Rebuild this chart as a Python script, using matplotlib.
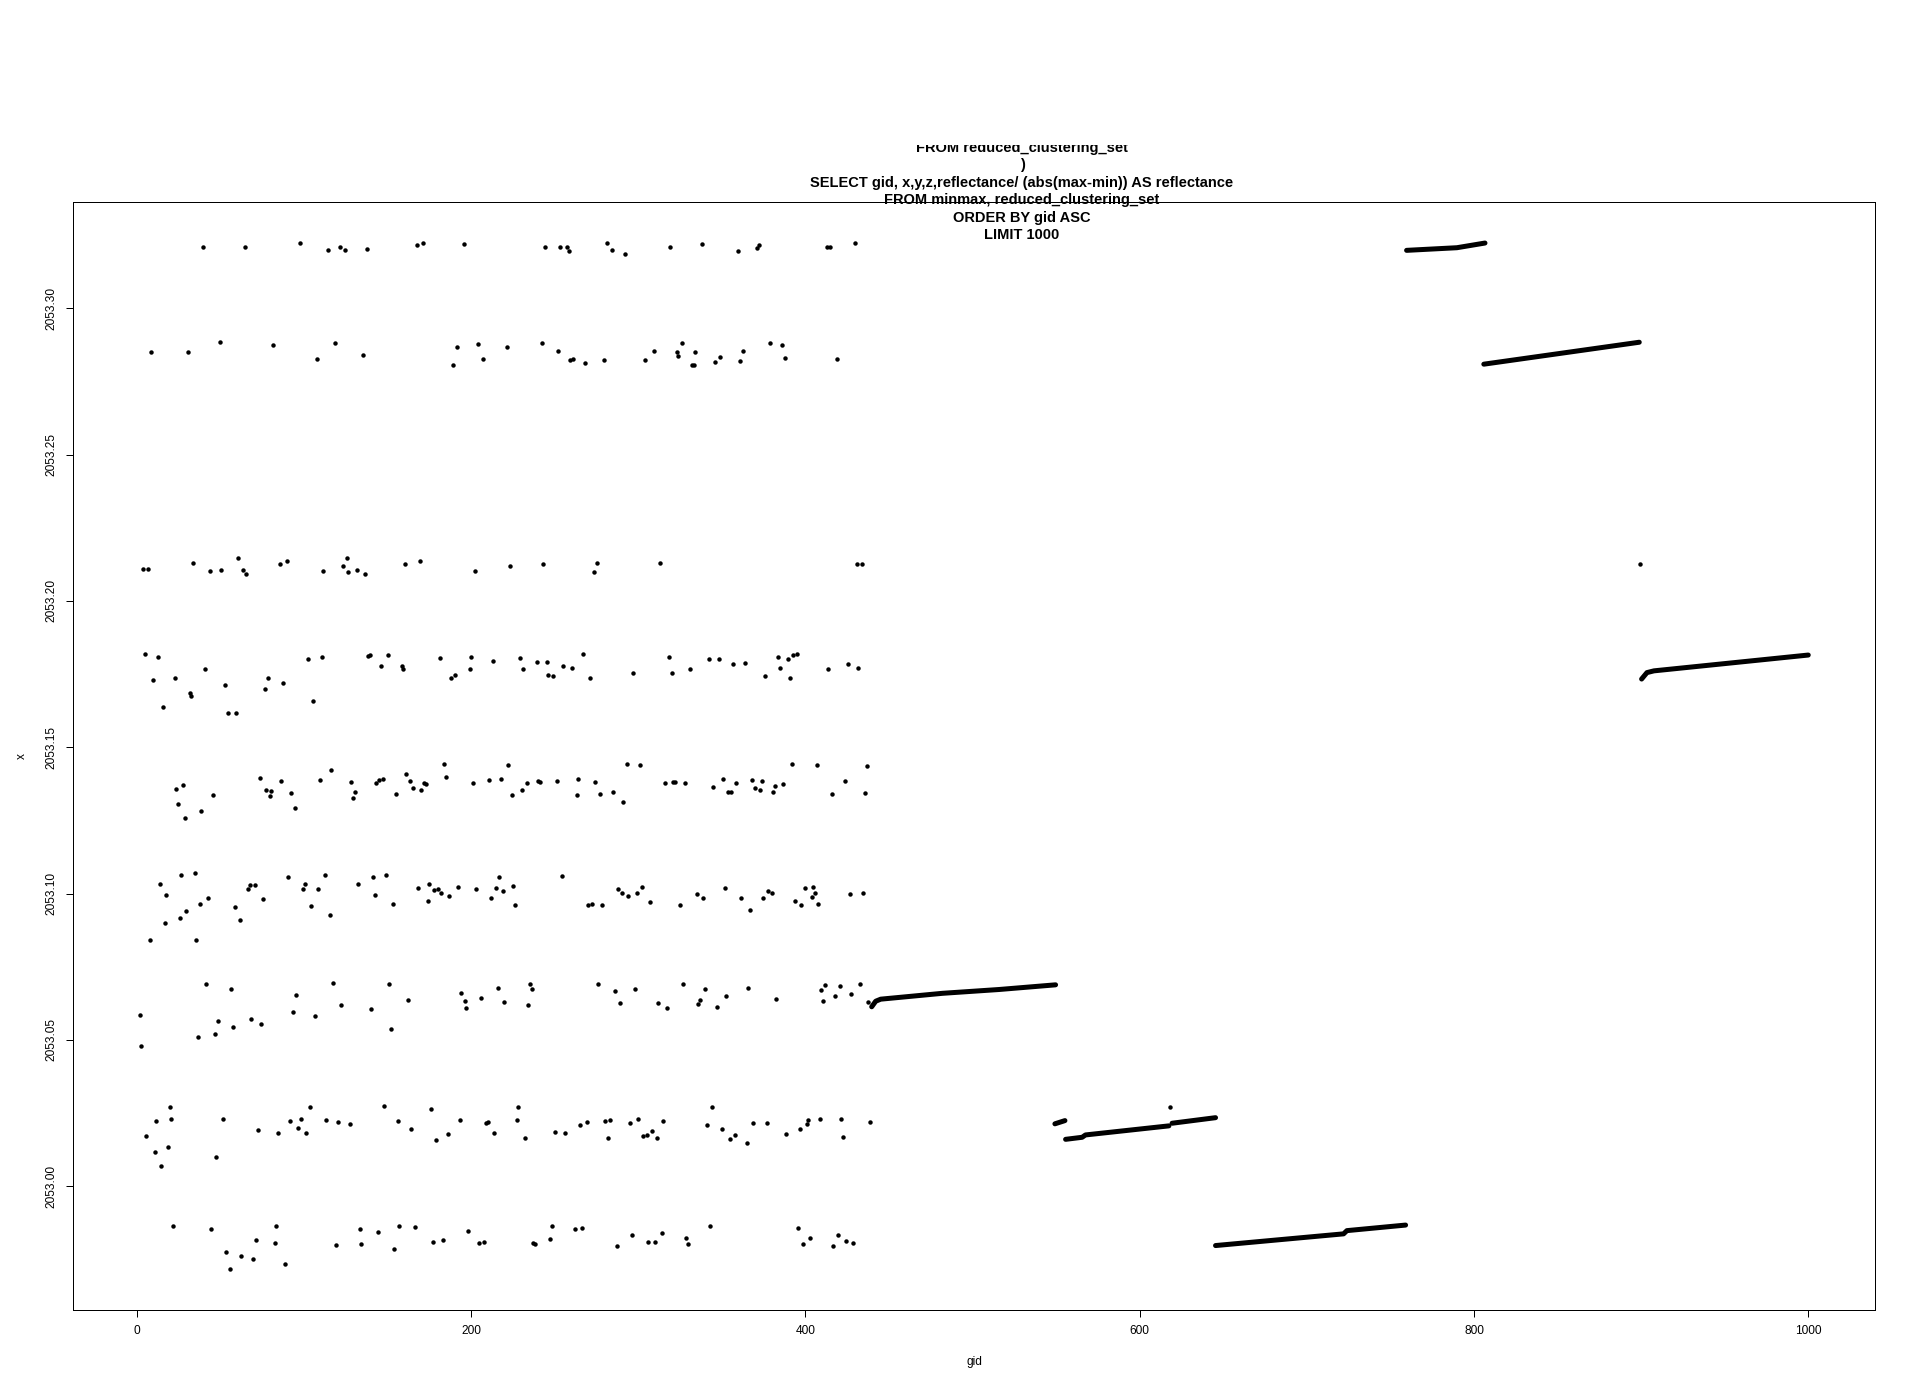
import matplotlib.pyplot as plt
from matplotlib.transforms import Bbox

plt.rcParams['font.family'] = ['Liberation Sans', 'DejaVu Sans']

# title of the R plot (only the part that is visible)
title_lines = [
    "FROM reduced_clustering_set",
    ")",
    "SELECT gid, x,y,z,reflectance/ (abs(max-min)) AS reflectance",
    "FROM minmax, reduced_clustering_set",
    "ORDER BY gid ASC",
    "LIMIT 1000",
]

# scattered points, (gid, x), one list per horizontal band
band_1 = [(39.6, 2053.3211), (64.6, 2053.3208), (97.6, 2053.3222), (114.6, 2053.3198), (121.5, 2053.3208),
          (124.5, 2053.3200), (137.5, 2053.3204), (167.4, 2053.3215), (171.4, 2053.3222), (195.5, 2053.3221),
          (244.5, 2053.3208), (253.2, 2053.3208), (257.4, 2053.3211), (258.4, 2053.3196), (281.1, 2053.3222),
          (284.3, 2053.3198), (292.3, 2053.3187), (319.2, 2053.3208), (338.1, 2053.3221), (360.0, 2053.3196),
          (371.0, 2053.3206), (372.2, 2053.3215), (413.0, 2053.3208), (415.0, 2053.3211), (430.0, 2053.3222)]

band_2 = [(8.8, 2053.2851), (30.7, 2053.2849), (49.6, 2053.2885), (81.7, 2053.2876), (107.6, 2053.2827),
          (118.5, 2053.2883), (135.5, 2053.2841), (189.5, 2053.2807), (191.5, 2053.2868), (204.4, 2053.2878),
          (207.4, 2053.2827), (221.4, 2053.2868), (242.3, 2053.2883), (252.2, 2053.2854), (259.2, 2053.2823),
          (261.2, 2053.2827), (268.4, 2053.2812), (279.3, 2053.2824), (304.2, 2053.2823), (309.2, 2053.2854),
          (323.2, 2053.2849), (324.1, 2053.2836), (326.2, 2053.2883), (332.1, 2053.2807), (333.3, 2053.2807),
          (334.1, 2053.2851), (346.1, 2053.2817), (349.1, 2053.2834), (361.0, 2053.2819), (363.0, 2053.2854),
          (379.0, 2053.2880), (385.9, 2053.2876), (387.9, 2053.2829), (419.0, 2053.2827)]

band_3 = [(3.8, 2053.2108), (6.8, 2053.2108), (33.7, 2053.2130), (43.6, 2053.2103), (50.6, 2053.2105),
          (60.6, 2053.2146), (63.6, 2053.2106), (65.5, 2053.2093), (85.7, 2053.2125), (89.7, 2053.2135),
          (111.6, 2053.2103), (123.5, 2053.2121), (125.5, 2053.2146), (126.5, 2053.2098), (131.5, 2053.2106),
          (136.5, 2053.2093), (160.4, 2053.2125), (169.3, 2053.2135), (202.4, 2053.2103), (223.4, 2053.2121),
          (243.3, 2053.2125), (273.3, 2053.2098), (275.4, 2053.2130), (313.2, 2053.2130), (431.0, 2053.2125),
          (434.0, 2053.2125), (899.5, 2053.2127)]

band_4 = [(4.8, 2053.1819), (9.8, 2053.1731), (12.8, 2053.1810), (15.7, 2053.1637), (22.7, 2053.1736),
          (31.7, 2053.1686), (32.7, 2053.1676), (40.6, 2053.1768), (52.6, 2053.1711), (54.6, 2053.1617),
          (59.6, 2053.1617), (76.5, 2053.1700), (78.5, 2053.1736), (87.4, 2053.1721), (102.6, 2053.1802),
          (105.6, 2053.1659), (110.6, 2053.1808), (138.5, 2053.1813), (139.5, 2053.1814), (146.4, 2053.1777),
          (150.4, 2053.1815), (158.4, 2053.1778), (159.4, 2053.1769), (181.3, 2053.1804), (188.3, 2053.1738),
          (190.3, 2053.1746), (199.2, 2053.1766), (200.2, 2053.1809), (213.2, 2053.1794), (229.3, 2053.1804),
          (231.3, 2053.1769), (239.3, 2053.1791), (245.3, 2053.1791), (246.3, 2053.1746), (249.3, 2053.1743),
          (255.2, 2053.1778), (260.2, 2053.1770), (267.2, 2053.1817), (271.2, 2053.1736), (297.1, 2053.1753),
          (318.2, 2053.1808), (320.2, 2053.1755), (331.1, 2053.1766), (342.1, 2053.1802), (348.1, 2053.1802),
          (357.0, 2053.1786), (364.0, 2053.1787), (376.0, 2053.1743), (383.9, 2053.1810), (384.9, 2053.1770),
          (389.9, 2053.1802), (390.9, 2053.1738), (392.9, 2053.1816), (394.9, 2053.1817), (413.8, 2053.1766),
          (425.8, 2053.1783), (431.7, 2053.1772)]

band_5 = [(23.7, 2053.1357), (24.7, 2053.1305), (27.7, 2053.1371), (28.7, 2053.1257), (38.7, 2053.1282),
          (45.6, 2053.1336), (73.5, 2053.1395), (77.5, 2053.1354), (79.5, 2053.1333), (80.5, 2053.1349),
          (86.5, 2053.1385), (92.5, 2053.1344), (94.4, 2053.1293), (109.4, 2053.1387), (116.4, 2053.1422),
          (128.3, 2053.1380), (129.3, 2053.1327), (130.3, 2053.1346), (143.3, 2053.1378), (145.2, 2053.1388),
          (147.2, 2053.1393), (155.2, 2053.1339), (161.2, 2053.1407), (163.2, 2053.1385), (165.2, 2053.1361),
          (170.2, 2053.1354), (172.1, 2053.1378), (173.1, 2053.1375), (184.1, 2053.1441), (185.1, 2053.1397),
          (201.0, 2053.1378), (211.0, 2053.1387), (218.0, 2053.1393), (222.0, 2053.1440), (224.3, 2053.1338),
          (230.3, 2053.1353), (233.3, 2053.1379), (240.3, 2053.1385), (241.3, 2053.1380), (251.2, 2053.1385),
          (263.2, 2053.1336), (264.2, 2053.1393), (274.2, 2053.1382), (277.2, 2053.1340), (285.1, 2053.1348),
          (291.1, 2053.1313), (293.1, 2053.1444), (301.1, 2053.1439), (316.0, 2053.1378), (321.0, 2053.1382),
          (322.0, 2053.1380), (328.0, 2053.1379), (344.9, 2053.1365), (350.9, 2053.1393), (353.9, 2053.1348),
          (355.8, 2053.1346), (358.8, 2053.1379), (367.8, 2053.1389), (369.8, 2053.1361), (372.8, 2053.1355),
          (374.0, 2053.1385), (380.9, 2053.1348), (381.9, 2053.1368), (386.9, 2053.1375), (391.9, 2053.1444),
          (406.9, 2053.1439), (415.8, 2053.1340), (423.8, 2053.1385), (435.7, 2053.1344), (436.7, 2053.1437)]

band_6 = [(7.8, 2053.0842), (13.7, 2053.1031), (16.7, 2053.0898), (17.8, 2053.0994), (25.7, 2053.0918),
          (26.7, 2053.1063), (29.7, 2053.0939), (34.7, 2053.1069), (35.7, 2053.0842), (37.7, 2053.0963),
          (42.6, 2053.0986), (58.6, 2053.0955), (61.6, 2053.0911), (66.5, 2053.1016), (67.5, 2053.1028),
          (70.5, 2053.1028), (75.5, 2053.0980), (90.4, 2053.1056), (99.4, 2053.1016), (100.4, 2053.1033),
          (104.4, 2053.0959), (108.4, 2053.1014), (112.4, 2053.1065), (115.4, 2053.0928), (132.3, 2053.1031),
          (141.2, 2053.1058), (142.3, 2053.0994), (149.2, 2053.1063), (153.2, 2053.0965), (168.1, 2053.1018),
          (174.1, 2053.0973), (175.1, 2053.1031), (178.1, 2053.1011), (180.1, 2053.1017), (182.1, 2053.1002),
          (187.1, 2053.0990), (192.1, 2053.1022), (203.0, 2053.1014), (212.0, 2053.0986), (215.0, 2053.1018),
          (217.0, 2053.1058), (219.0, 2053.1007), (225.3, 2053.1025), (226.3, 2053.0961), (254.2, 2053.1061),
          (270.2, 2053.0961), (272.2, 2053.0964), (278.1, 2053.0961), (288.1, 2053.1017), (290.1, 2053.1002),
          (294.1, 2053.0991), (299.1, 2053.1002), (302.1, 2053.1023), (307.1, 2053.0972), (325.0, 2053.0961),
          (334.9, 2053.0999), (338.9, 2053.0985), (351.9, 2053.1018), (361.8, 2053.0984), (366.8, 2053.0944),
          (374.8, 2053.0985), (377.8, 2053.1007), (379.8, 2053.1003), (393.7, 2053.0974), (397.7, 2053.0961),
          (399.7, 2053.1018), (403.7, 2053.0989), (404.7, 2053.1023), (405.7, 2053.1003), (407.7, 2053.0964),
          (426.6, 2053.0999), (434.6, 2053.1001)]

band_7 = [(1.8, 2053.0586), (2.8, 2053.0478), (36.6, 2053.0509), (41.7, 2053.0690), (46.6, 2053.0521),
          (48.6, 2053.0563), (56.6, 2053.0673), (57.6, 2053.0543), (68.5, 2053.0570), (74.5, 2053.0553),
          (93.4, 2053.0595), (95.5, 2053.0653), (106.4, 2053.0580), (117.3, 2053.0693), (122.3, 2053.0618),
          (140.3, 2053.0604), (151.2, 2053.0690), (152.2, 2053.0536), (162.2, 2053.0636), (194.1, 2053.0661),
          (196.1, 2053.0634), (197.1, 2053.0609), (206.0, 2053.0642), (216.0, 2053.0678), (220.0, 2053.0629),
          (234.3, 2053.0619), (235.3, 2053.0690), (236.3, 2053.0673), (276.2, 2053.0690), (286.1, 2053.0668),
          (289.1, 2053.0626), (298.1, 2053.0673), (312.0, 2053.0626), (317.0, 2053.0609), (327.0, 2053.0690),
          (335.9, 2053.0624), (336.9, 2053.0636), (339.9, 2053.0673), (346.9, 2053.0612), (352.8, 2053.0651),
          (365.8, 2053.0678), (382.7, 2053.0641), (409.6, 2053.0670), (410.6, 2053.0634), (411.6, 2053.0687),
          (417.6, 2053.0649), (420.6, 2053.0684), (427.6, 2053.0656), (432.6, 2053.0690), (437.5, 2053.0629)]

band_8 = [(5.8, 2053.0170), (10.8, 2053.0118), (11.8, 2053.0221), (14.8, 2053.0069), (18.7, 2053.0135),
          (19.7, 2053.0269), (20.7, 2053.0228), (47.6, 2053.0101), (51.6, 2053.0229), (72.5, 2053.0192),
          (84.5, 2053.0182), (91.5, 2053.0221), (96.4, 2053.0199), (98.4, 2053.0229), (101.4, 2053.0182),
          (103.4, 2053.0271), (113.4, 2053.0226), (120.3, 2053.0220), (127.3, 2053.0212), (148.2, 2053.0273),
          (156.2, 2053.0222), (164.2, 2053.0197), (176.1, 2053.0265), (179.1, 2053.0158), (186.1, 2053.0178),
          (193.1, 2053.0226), (209.0, 2053.0215), (210.0, 2053.0220), (214.0, 2053.0181), (227.3, 2053.0226),
          (228.3, 2053.0271), (232.3, 2053.0163), (250.3, 2053.0186), (256.2, 2053.0181), (265.2, 2053.0209),
          (269.2, 2053.0220), (280.2, 2053.0222), (282.1, 2053.0165), (283.1, 2053.0226), (295.1, 2053.0215),
          (300.1, 2053.0229), (303.1, 2053.0173), (305.1, 2053.0175), (308.0, 2053.0188), (311.0, 2053.0165),
          (315.0, 2053.0224), (340.9, 2053.0209), (343.9, 2053.0271), (349.9, 2053.0197), (354.9, 2053.0160),
          (357.9, 2053.0175), (364.8, 2053.0149), (368.8, 2053.0217), (376.8, 2053.0215), (388.7, 2053.0178),
          (396.7, 2053.0197), (400.7, 2053.0212), (401.7, 2053.0226), (408.7, 2053.0231), (421.6, 2053.0229),
          (422.6, 2053.0167), (438.6, 2053.0220), (618.1, 2053.0272)]

band_9 = [(21.7, 2052.9865), (44.6, 2052.9852), (53.6, 2052.9774), (55.6, 2052.9717), (62.6, 2052.9761),
          (69.5, 2052.9750), (71.5, 2052.9816), (82.5, 2052.9806), (83.5, 2052.9865), (88.5, 2052.9735),
          (119.4, 2052.9800), (133.3, 2052.9852), (134.3, 2052.9803), (144.2, 2052.9844), (154.2, 2052.9786),
          (157.2, 2052.9863), (166.2, 2052.9860), (177.1, 2052.9810), (183.1, 2052.9817), (198.0, 2052.9847),
          (205.0, 2052.9806), (208.0, 2052.9810), (236.9, 2052.9807), (238.3, 2052.9804), (247.3, 2052.9818),
          (248.3, 2052.9863), (262.2, 2052.9853), (266.2, 2052.9857), (287.1, 2052.9796), (296.1, 2052.9833),
          (306.0, 2052.9809), (310.0, 2052.9809), (314.0, 2052.9839), (328.9, 2052.9824), (330.0, 2052.9801),
          (342.9, 2052.9863), (395.7, 2052.9857), (398.7, 2052.9804), (402.7, 2052.9824), (416.6, 2052.9796),
          (419.6, 2052.9832), (424.6, 2052.9813), (428.6, 2052.9807)]

# runs of consecutive gids where the points touch and form a solid trace
seg_a = [(439.7, 2053.0613), (442.1, 2053.0632), (445.1, 2053.0639), (482.0, 2053.0659), (515.8, 2053.0672), (549.7, 2053.0688)]
seg_b = [(549.3, 2053.0213), (555.3, 2053.0224)]
seg_c = [(555.7, 2053.0160), (565.6, 2053.0167), (567.6, 2053.0175), (617.5, 2053.0206)]
seg_d = [(619.4, 2053.0215), (645.4, 2053.0234)]
seg_e = [(645.4, 2052.9797), (722.0, 2052.9837), (724.0, 2052.9848), (759.1, 2052.9867)]
seg_f = [(759.7, 2053.3198), (789.8, 2053.3207), (806.6, 2053.3223)]
seg_g = [(805.9, 2053.2809), (898.9, 2053.2884)]
seg_h = [(900.3, 2053.1733), (903.5, 2053.1755), (907.7, 2053.1761), (1000.0, 2053.1815)]

bands = [band_1, band_2, band_3, band_4, band_5, band_6, band_7, band_8, band_9]
segments = [seg_a, seg_b, seg_c, seg_d, seg_e, seg_f, seg_g, seg_h]

x_ticks = [0, 200, 400, 600, 800, 1000]
y_ticks = [2053.00, 2053.05, 2053.10, 2053.15, 2053.20, 2053.25, 2053.30]

fig = plt.figure(figsize=(19.2, 14), dpi=100)
ax = fig.add_axes([73 / 1920, 90 / 1400, 1802 / 1920, 1108 / 1400])

all_g, all_x = [], []
for band in bands:
    g = [p[0] for p in band]
    v = [p[1] for p in band]
    all_g += g
    all_x += v
    ax.plot(g, v, 'o', color='black', ms=3.2, mew=0)

for seg in segments:
    g = [p[0] for p in seg]
    v = [p[1] for p in seg]
    all_g += g
    all_x += v
    ax.plot(g, v, '-', color='black', lw=3.6, solid_capstyle='round')

# R style axis range: data range plus 4% each side
gmin, gmax = min(all_g), max(all_g)
xmin, xmax = min(all_x), max(all_x)
ax.set_xlim(gmin - 0.04 * (gmax - gmin), gmax + 0.04 * (gmax - gmin))
ax.set_ylim(xmin - 0.04 * (xmax - xmin), xmax + 0.04 * (xmax - xmin))

ax.set_xticks(x_ticks)
ax.set_xticklabels([str(t) for t in x_ticks])
ax.set_yticks(y_ticks)
ax.set_yticklabels(['%.2f' % t for t in y_ticks], rotation=90, va='center')
ax.tick_params(direction='out', length=5, width=0.72, labelsize=8.6, pad=6, colors='black')
for s in ax.spines.values():
    s.set_linewidth(0.72)
    s.set_color('black')

fig.text(974 / 1920, 1 - 1362 / 1400, 'gid', ha='center', va='center', fontsize=8.6)
fig.text(22 / 1920, 1 - 756 / 1400, 'x', ha='center', va='center', fontsize=8.6, rotation=90)

# multi line title, the top of it runs off the device and gets cut
clip = Bbox.from_extents(0, 0, 1920, 1400 - 144.5)
title_base = [151.7, 169.2, 186.7, 204.2, 221.7, 239.2]
for line, y in zip(title_lines, title_base):
    t = fig.text(1022 / 1920, 1 - y / 1400, line, ha='center', va='baseline',
                 fontsize=10.5, fontweight='bold')
    t.set_clip_box(clip)
    t.set_clip_on(True)

fig.savefig('out.png', dpi=100)
